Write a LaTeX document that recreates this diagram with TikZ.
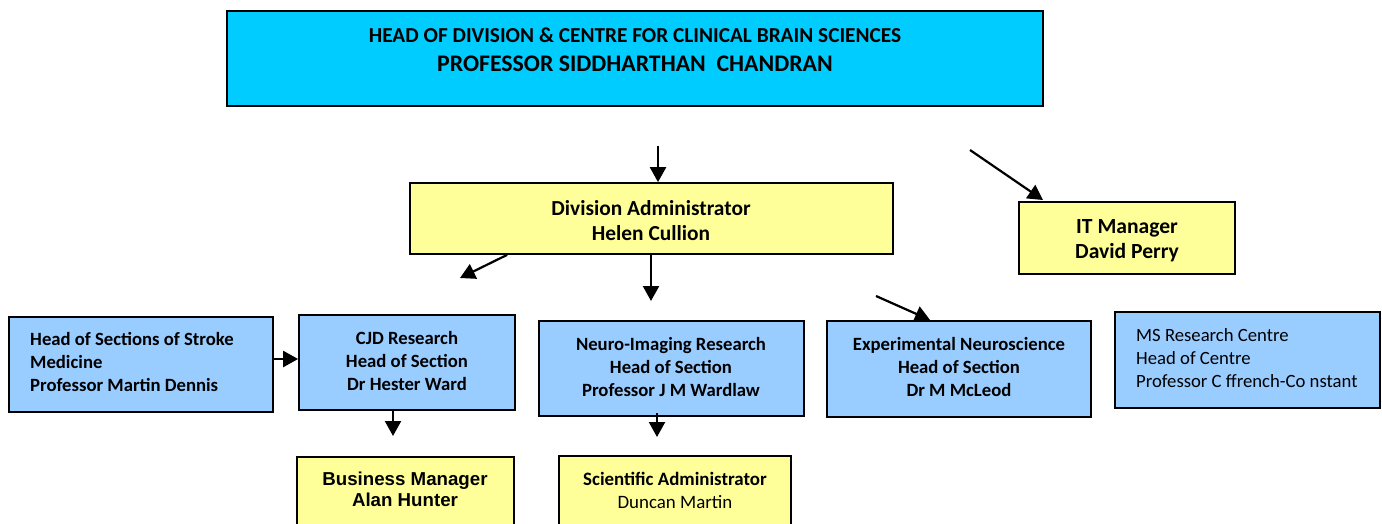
\documentclass[tikz,border=0pt]{standalone}
\usepackage{fontspec}
\setmainfont{Carlito}
\newfontfamily\arialfont{Liberation Sans}
\usetikzlibrary{arrows.meta,calc}
\definecolor{topcyan}{HTML}{00CCFF}
\definecolor{boxyellow}{HTML}{FFFF99}
\definecolor{boxblue}{HTML}{99CCFF}
\tikzset{
  orgbox/.style={draw=black, line width=1.7pt, inner sep=0pt},
  txt/.style={inner sep=0pt, align=center, font=\bfseries\fontsize{18.7}{23}\selectfont},
  txtl/.style={inner sep=0pt, align=left, anchor=west, font=\bfseries\fontsize{18.7}{23}\selectfont},
  conn/.style={line width=2.2pt, -{Triangle[length=15pt,width=16pt]}}
}
\begin{document}
\begin{tikzpicture}[x=1pt,y=-1pt]
\clip (0,0) rectangle (1382,523);
\fill[white] (0,0) rectangle (1382,523);
% boxes
\node[orgbox, fill=topcyan, minimum width=816pt, minimum height=95pt] (top) at (635,58.5) {};
\node[orgbox, fill=boxyellow, minimum width=483pt, minimum height=71pt] (div) at (651.5,218.5) {};
\node[orgbox, fill=boxyellow, minimum width=216pt, minimum height=72pt] (it) at (1127,238) {};
\node[orgbox, fill=boxblue, minimum width=264pt, minimum height=95pt] (stroke) at (141,364.5) {};
\node[orgbox, fill=boxblue, minimum width=216pt, minimum height=95pt] (cjd) at (407,362.5) {};
\node[orgbox, fill=boxblue, minimum width=265pt, minimum height=95pt] (neuro) at (671.5,368.5) {};
\node[orgbox, fill=boxblue, minimum width=264pt, minimum height=96pt] (exp) at (959,369) {};
\node[orgbox, fill=boxblue, minimum width=265pt, minimum height=96pt] (ms) at (1247.5,360) {};
\node[orgbox, fill=boxyellow, minimum width=217pt, minimum height=83pt] (bus) at (405.5,498.5) {};
\node[orgbox, fill=boxyellow, minimum width=232pt, minimum height=84pt] (sci) at (675,498) {};
% texts
\node[txt, font=\bfseries\fontsize{21.3}{28}\selectfont, anchor=center] (toptxt1) at (635,35.5) {HEAD OF DIVISION \& CENTRE FOR CLINICAL BRAIN SCIENCES};
\node[txt, font=\bfseries\fontsize{23.8}{28}\selectfont, anchor=center] (toptxt2) at (635,63.5) {PROFESSOR SIDDHARTHAN\ \ CHANDRAN};
\node[txt, font=\bfseries\fontsize{21.4}{25}\selectfont] (divtxt) at (651,220.5) {Division Administrator\\Helen Cullion};
\node[txt, font=\bfseries\fontsize{21.6}{25}\selectfont] (ittxt) at (1127,240.5) {IT Manager\\David Perry};
\node[txtl] (stroketxt) at (30,362) {Head of Sections of Stroke\\Medicine\\Professor Martin Dennis};
\node[txt] (cjdtxt) at (407,360.5) {CJD Research\\Head of Section\\Dr Hester Ward};
\node[txt] (neurotxt) at (671,366.5) {Neuro-Imaging Research\\Head of Section\\Professor J M Wardlaw};
\node[txt] (exptxt) at (959,366.5) {Experimental Neuroscience\\Head of Section\\Dr M McLeod};
\node[txtl, font=\fontsize{18.7}{23}\selectfont] (mstxt) at (1136,358) {MS Research Centre\\Head of Centre\\Professor C ffrench-Co nstant};
\node[txt, font=\arialfont\bfseries\fontsize{18.7}{21}\selectfont] (bustxt) at (405,489.5) {Business Manager\\Alan Hunter};
\node[txt, font=\bfseries\fontsize{18.9}{23}\selectfont] (scitxt) at (675,490.5) {Scientific Administrator\\\mdseries Duncan Martin};
% connector ends
\coordinate (a1s) at (658,146);
\coordinate (a2s) at (970,150);
\coordinate (a2e) at (1043,200);
\coordinate (a3e) at (460,278);
\coordinate (a4e) at (651,301);
\coordinate (a5s) at (876,296);
\coordinate (a5e) at (930,320);
\coordinate (a7e) at (393,436);
\coordinate (a8e) at (657,437);
% connectors
\draw[conn] (a1s) -- (a1s |- div.north);
\draw[conn] (a2s) -- (a2e);
\draw[conn] ($(div.south west)+(98,0)$) -- (a3e);
\draw[conn] (a4e |- div.south) -- (a4e);
\draw[conn] (a5s) -- (a5e);
\draw[conn] ($(stroke.east)+(0,-5.5)$) -- ($(cjd.west)+(0,-3.5)$);
\draw[conn] (a7e |- cjd.south) -- (a7e);
\draw[conn] ($(a8e)+(0,-24)$) -- (a8e);
\end{tikzpicture}
\end{document}
